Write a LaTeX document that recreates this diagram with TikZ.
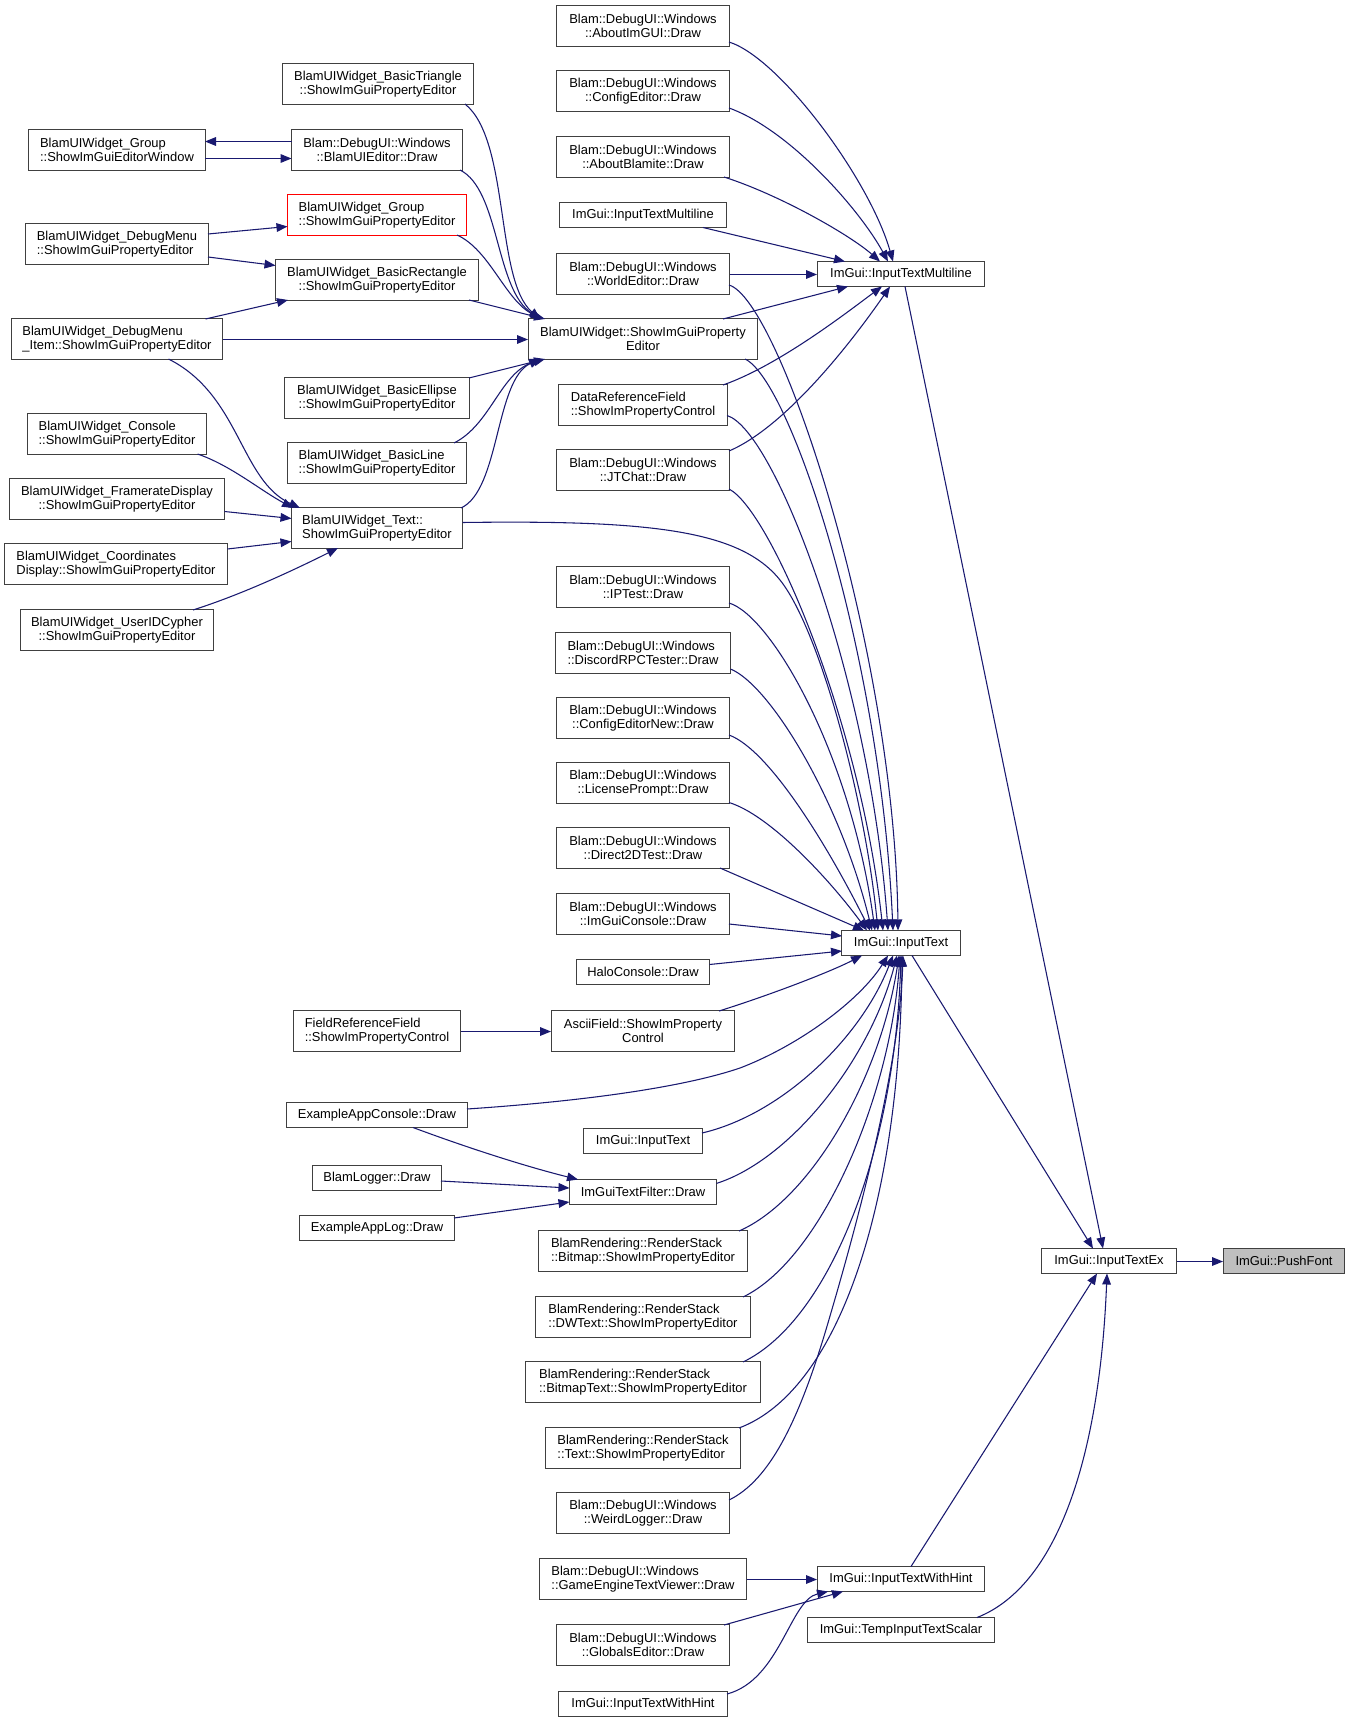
\documentclass[tikz,border=0pt]{standalone}
\usepackage{fontspec}
\setmainfont{Liberation Sans}
\usetikzlibrary{arrows.meta}
\definecolor{edgec}{HTML}{191970}
\definecolor{bordc}{HTML}{404040}
\definecolor{greyfill}{HTML}{BFBFBF}
\begin{document}
\begin{tikzpicture}[x=0.75pt,y=-0.75pt,
  nd/.style={draw=bordc, line width=0.75pt, fill=white, inner sep=0pt, text=black,
             font=\fontsize{9.7pt}{10.5pt}\selectfont},
  c2/.style={nd, align=center},
  l2/.style={nd, align=left},
  sz/.style 2 args={minimum width={#1*0.75pt}, minimum height={#2*0.75pt}},
  edg/.style={draw=edgec, line width=0.8pt, -{Triangle[length=8.25pt,width=6.5pt]}, fill=none},
]
\fill[white] (0,0) rectangle (1349,1719);
\useasboundingbox (0,0) rectangle (1349,1719);

% ---------------- centre column
\node[c2, sz={173}{41}] (n1) at (643,26) {Blam::DebugUI::Windows\\::AboutImGUI::Draw};
\node[c2, sz={173}{41}] (n2) at (643,91) {Blam::DebugUI::Windows\\::ConfigEditor::Draw};
\node[c2, sz={173}{41}] (n3) at (643,157) {Blam::DebugUI::Windows\\::AboutBlamite::Draw};
\node[nd, sz={167}{25}] (n4) at (643,215) {ImGui::InputTextMultiline};
\node[c2, sz={173}{41}] (n5) at (643,274) {Blam::DebugUI::Windows\\::WorldEditor::Draw};
\node[c2, sz={229}{41}] (n6) at (643,339) {BlamUIWidget::ShowImGuiProperty\\Editor};
\node[l2, sz={169}{41}] (n7) at (643,405) {DataReferenceField\\::ShowImPropertyControl};
\node[c2, sz={173}{41}] (n8) at (643,470) {Blam::DebugUI::Windows\\::JTChat::Draw};
\node[c2, sz={173}{41}] (n9) at (643,587) {Blam::DebugUI::Windows\\::IPTest::Draw};
\node[l2, sz={175}{41}] (n10) at (643,653) {Blam::DebugUI::Windows\\::DiscordRPCTester::Draw};
\node[c2, sz={173}{41}] (n11) at (643,718) {Blam::DebugUI::Windows\\::ConfigEditorNew::Draw};
\node[c2, sz={173}{41}] (n12) at (643,783) {Blam::DebugUI::Windows\\::LicensePrompt::Draw};
\node[c2, sz={173}{41}] (n13) at (643,848) {Blam::DebugUI::Windows\\::Direct2DTest::Draw};
\node[c2, sz={173}{41}] (n14) at (643,914) {Blam::DebugUI::Windows\\::ImGuiConsole::Draw};
\node[nd, sz={133}{25}] (n15) at (643,972) {HaloConsole::Draw};
\node[c2, sz={183}{41}] (n16) at (643,1031) {AsciiField::ShowImProperty\\Control};
\node[nd, sz={119}{25}] (n17) at (643,1141) {ImGui::InputText};
\node[nd, sz={147}{25}] (n18) at (643,1192) {ImGuiTextFilter::Draw};
\node[l2, sz={209}{41}] (n19) at (643,1251) {BlamRendering::RenderStack\\::Bitmap::ShowImPropertyEditor};
\node[l2, sz={215}{41}] (n20) at (643,1317) {BlamRendering::RenderStack\\::DWText::ShowImPropertyEditor};
\node[l2, sz={235}{41}] (n21) at (643,1382) {BlamRendering::RenderStack\\::BitmapText::ShowImPropertyEditor};
\node[l2, sz={195}{41}] (n22) at (643,1448) {BlamRendering::RenderStack\\::Text::ShowImPropertyEditor};
\node[c2, sz={173}{41}] (n23) at (643,1513) {Blam::DebugUI::Windows\\::WeirdLogger::Draw};
\node[l2, sz={207}{41}] (n24) at (643,1579) {Blam::DebugUI::Windows\\::GameEngineTextViewer::Draw};
\node[c2, sz={173}{41}] (n25) at (643,1645) {Blam::DebugUI::Windows\\::GlobalsEditor::Draw};
\node[nd, sz={169}{25}] (n26) at (643,1704) {ImGui::InputTextWithHint};

% ---------------- right
\node[nd, sz={167}{25}] (n27) at (901,274) {ImGui::InputTextMultiline};
\node[nd, sz={119}{25}] (n28) at (901,943) {ImGui::InputText};
\node[nd, sz={135}{25}] (n29) at (1109,1261) {ImGui::InputTextEx};
\node[nd, fill=greyfill, sz={121}{25}] (n30) at (1284,1261) {ImGui::PushFont};
\node[nd, sz={167}{25}] (n31) at (901,1579) {ImGui::InputTextWithHint};
\node[nd, sz={187}{25}] (n32) at (901,1630) {ImGui::TempInputTextScalar};

% ---------------- left column
\node[c2, sz={191}{41}] (n33) at (378,84) {BlamUIWidget\_BasicTriangle\\::ShowImGuiPropertyEditor};
\node[c2, sz={171}{41}] (n34) at (377,150) {Blam::DebugUI::Windows\\::BlamUIEditor::Draw};
\node[l2, draw=red, sz={179}{41}] (n35) at (377,215) {BlamUIWidget\_Group\\::ShowImGuiPropertyEditor};
\node[c2, sz={203}{41}] (n36) at (377,280) {BlamUIWidget\_BasicRectangle\\::ShowImGuiPropertyEditor};
\node[c2, sz={185}{41}] (n37) at (377,398) {BlamUIWidget\_BasicEllipse\\::ShowImGuiPropertyEditor};
\node[l2, sz={179}{41}] (n38) at (377,463) {BlamUIWidget\_BasicLine\\::ShowImGuiPropertyEditor};
\node[l2, sz={171}{41}] (n39) at (377,528) {BlamUIWidget\_Text::\\ShowImGuiPropertyEditor};
\node[l2, sz={167}{41}] (n40) at (377,1031) {FieldReferenceField\\::ShowImPropertyControl};
\node[nd, sz={181}{25}] (n41) at (377,1115) {ExampleAppConsole::Draw};
\node[nd, sz={129}{25}] (n42) at (377,1178) {BlamLogger::Draw};
\node[nd, sz={155}{25}] (n43) at (377,1228) {ExampleAppLog::Draw};

% ---------------- far left
\node[l2, sz={177}{41}] (n44) at (117,150) {BlamUIWidget\_Group\\::ShowImGuiEditorWindow};
\node[l2, sz={183}{41}] (n45) at (117,244) {BlamUIWidget\_DebugMenu\\::ShowImGuiPropertyEditor};
\node[l2, sz={211}{41}] (n46) at (117,339) {BlamUIWidget\_DebugMenu\\\_Item::ShowImGuiPropertyEditor};
\node[l2, sz={179}{41}] (n47) at (117,434) {BlamUIWidget\_Console\\::ShowImGuiPropertyEditor};
\node[c2, sz={215}{41}] (n48) at (117,499) {BlamUIWidget\_FramerateDisplay\\::ShowImGuiPropertyEditor};
\node[l2, sz={223}{41}] (n49) at (116,564) {BlamUIWidget\_Coordinates\\Display::ShowImGuiPropertyEditor};
\node[c2, sz={193}{41}] (n50) at (117,630) {BlamUIWidget\_UserIDCypher\\::ShowImGuiPropertyEditor};

% ================= edges
% to InputTextMultiline (n27)
\draw[edg] ([shift={(86,16)}]n1.center) .. controls (780,58) and (870,180) .. ([shift={(-8,-12.5)}]n27.center);
\draw[edg] ([shift={(86,17)}]n2.center) .. controls (790,130) and (860,210) .. ([shift={(-13,-12.5)}]n27.center);
\draw[edg] ([shift={(81,20)}]n3.center) .. controls (780,195) and (850,235) .. ([shift={(-21,-12.5)}]n27.center);
\draw[edg] ([shift={(60,12.5)}]n4.center) -- ([shift={(-56,-12.5)}]n27.center);
\draw[edg] ([shift={(0,0.5)}]n5.east) -- ([shift={(0,0.5)}]n27.west);
\draw[edg] ([shift={(80,-20)}]n6.center) -- ([shift={(-53,12.5)}]n27.center);
\draw[edg] ([shift={(80,-20)}]n7.center) .. controls (780,365) and (850,310) .. ([shift={(-19,12.5)}]n27.center);
\draw[edg] ([shift={(86,-19)}]n8.center) .. controls (790,425) and (860,330) .. ([shift={(-11,12.5)}]n27.center);

% to InputTextEx (n29)
\draw[edg] ([shift={(4,12.5)}]n27.center) -- ([shift={(-6,-12.5)}]n29.center);
\draw[edg] ([shift={(11,12.5)}]n28.center) -- ([shift={(-16,-12.5)}]n29.center);
\draw[edg] ([shift={(10,-12.5)}]n31.center) -- ([shift={(-12,12.5)}]n29.center);
\draw[edg] ([shift={(76,-12.5)}]n32.center) .. controls (1060,1585) and (1100,1450) .. ([shift={(-2,12.5)}]n29.center);
\draw[edg] ([shift={(0,0.5)}]n29.east) -- ([shift={(0,0.5)}]n30.west);

% to InputText (n28)
\draw[edg] ([shift={(86,11)}]n5.center) .. controls (780,300) and (895,650) .. ([shift={(-3,-12.5)}]n28.center);
\draw[edg] ([shift={(102,20)}]n6.center) .. controls (790,380) and (880,650) .. ([shift={(-8,-12.5)}]n28.center);
\draw[edg] ([shift={(84,10.5)}]n7.center) .. controls (775,430) and (870,680) .. ([shift={(-13,-12.5)}]n28.center);
\draw[edg] ([shift={(86,19)}]n8.center) .. controls (770,510) and (860,720) .. ([shift={(-18,-12.5)}]n28.center);
\draw[edg] ([shift={(85.5,-5.5)}]n39.center) .. controls (650,520) and (740,530) .. (780,580)
           .. controls (820,630) and (865,800) .. ([shift={(-23,-12.5)}]n28.center);
\draw[edg] ([shift={(86,16)}]n9.center) .. controls (770,615) and (850,750) .. ([shift={(-26,-12.5)}]n28.center);
\draw[edg] ([shift={(87.5,16)}]n10.center) .. controls (770,685) and (840,800) .. ([shift={(-29,-12.5)}]n28.center);
\draw[edg] ([shift={(86,17)}]n11.center) .. controls (770,750) and (830,850) .. ([shift={(-31,-12.5)}]n28.center);
\draw[edg] ([shift={(86,19.5)}]n12.center) .. controls (770,815) and (830,880) .. ([shift={(-34,-12.5)}]n28.center);
\draw[edg] ([shift={(77,20)}]n13.center) -- ([shift={(-37,-12.5)}]n28.center);
\draw[edg] ([shift={(86,10)}]n14.center) -- ([shift={(-59,-7)}]n28.center);
\draw[edg] ([shift={(66.5,-7.5)}]n15.center) -- ([shift={(-59,8)}]n28.center);
\draw[edg] ([shift={(76,-20)}]n16.center) .. controls (770,995) and (830,972) .. ([shift={(-39,12.5)}]n28.center);
\draw[edg] ([shift={(90,-6)}]n41.center) .. controls (600,1100) and (690,1085) .. (740,1068)
           .. controls (800,1045) and (860,1000) .. ([shift={(-13,12.5)}]n28.center);
\draw[edg] ([shift={(59,-8)}]n17.center) .. controls (780,1115) and (860,1040) .. ([shift={(-8,12.5)}]n28.center);
\draw[edg] ([shift={(73.5,-8.6)}]n18.center) .. controls (790,1160) and (870,1060) .. ([shift={(-4,12.5)}]n28.center);
\draw[edg] ([shift={(96,-20)}]n19.center) .. controls (810,1200) and (880,1080) .. ([shift={(-2,12.5)}]n28.center);
\draw[edg] ([shift={(100,-20)}]n20.center) .. controls (820,1260) and (890,1100) .. ([shift={(-1,12.5)}]n28.center);
\draw[edg] ([shift={(100,-20)}]n21.center) .. controls (830,1320) and (895,1150) .. ([shift={(0,12.5)}]n28.center);
\draw[edg] ([shift={(96,-20)}]n22.center) .. controls (840,1390) and (900,1200) .. ([shift={(1,12.5)}]n28.center);
\draw[edg] ([shift={(86,-13)}]n23.center) .. controls (770,1480) and (800,1420) .. (830,1316)
           .. controls (870,1180) and (900,1050) .. ([shift={(2,12.5)}]n28.center);

% to InputTextWithHint (n31)
\draw[edg] ([shift={(0,0.5)}]n24.east) -- ([shift={(0,0.5)}]n31.west);
\draw[edg] ([shift={(81,-20)}]n25.center) -- ([shift={(-58,12.5)}]n31.center);
\draw[edg] ([shift={(84,-10)}]n26.center) .. controls (780,1680) and (790,1600) .. ([shift={(-73,12.5)}]n31.center);

% to BlamUIWidget::ShowImGuiPropertyEditor (n6)
\draw[edg] ([shift={(87,20)}]n33.center) .. controls (510,140) and (495,280) .. ([shift={(-103,-20)}]n6.center);
\draw[edg] ([shift={(83,20)}]n34.center) .. controls (500,190) and (495,290) .. ([shift={(-102,-20)}]n6.center);
\draw[edg] ([shift={(80,20)}]n35.center) .. controls (490,250) and (505,300) .. ([shift={(-101,-20)}]n6.center);
\draw[edg] ([shift={(92,20)}]n36.center) -- ([shift={(-98,-20)}]n6.center);
\draw[edg] ([shift={(0,0.5)}]n46.east) -- ([shift={(0,0.5)}]n6.west);
\draw[edg] ([shift={(92,-20)}]n37.center) -- ([shift={(-98,20)}]n6.center);
\draw[edg] ([shift={(77,-20)}]n38.center) .. controls (490,425) and (500,375) .. ([shift={(-102,20)}]n6.center);
\draw[edg] ([shift={(84,-20)}]n39.center) .. controls (500,490) and (495,380) .. ([shift={(-103,20)}]n6.center);

% left part
\draw[edg] ([shift={(88,8.5)}]n44.center) -- ([shift={(-85.5,8.5)}]n34.center);
\draw[edg] ([shift={(-85.5,-8.5)}]n34.center) -- ([shift={(88,-8.5)}]n44.center);
\draw[edg] ([shift={(91,-10)}]n45.center) -- ([shift={(-89.5,11.5)}]n35.center);
\draw[edg] ([shift={(91,13)}]n45.center) -- ([shift={(-101.5,-14.5)}]n36.center);
\draw[edg] ([shift={(88.5,-20)}]n46.center) -- ([shift={(-89,20)}]n36.center);
\draw[edg] ([shift={(51.5,20)}]n46.center) .. controls (240,395) and (240,480) .. ([shift={(-77,-20)}]n39.center);
\draw[edg] ([shift={(80.5,20)}]n47.center) .. controls (230,465) and (260,490) .. ([shift={(-84,-20)}]n39.center);
\draw[edg] ([shift={(107.5,12.5)}]n48.center) -- ([shift={(-85.5,-9.5)}]n39.center);
\draw[edg] ([shift={(111.5,-15)}]n49.center) -- ([shift={(-85.5,13.5)}]n39.center);
\draw[edg] ([shift={(76,-20)}]n50.center) .. controls (240,595) and (290,572) .. ([shift={(-39,20)}]n39.center);

% lower left
\draw[edg] ([shift={(0,0.5)}]n40.east) -- ([shift={(0,0.5)}]n16.west);
\draw[edg] ([shift={(36,12.5)}]n41.center) .. controls (460,1145) and (520,1165) .. ([shift={(-65,-12.5)}]n18.center);
\draw[edg] ([shift={(64,3)}]n42.center) -- ([shift={(-73.5,-4)}]n18.center);
\draw[edg] ([shift={(77,-10)}]n43.center) -- ([shift={(-73.5,10)}]n18.center);
\end{tikzpicture}
\end{document}
